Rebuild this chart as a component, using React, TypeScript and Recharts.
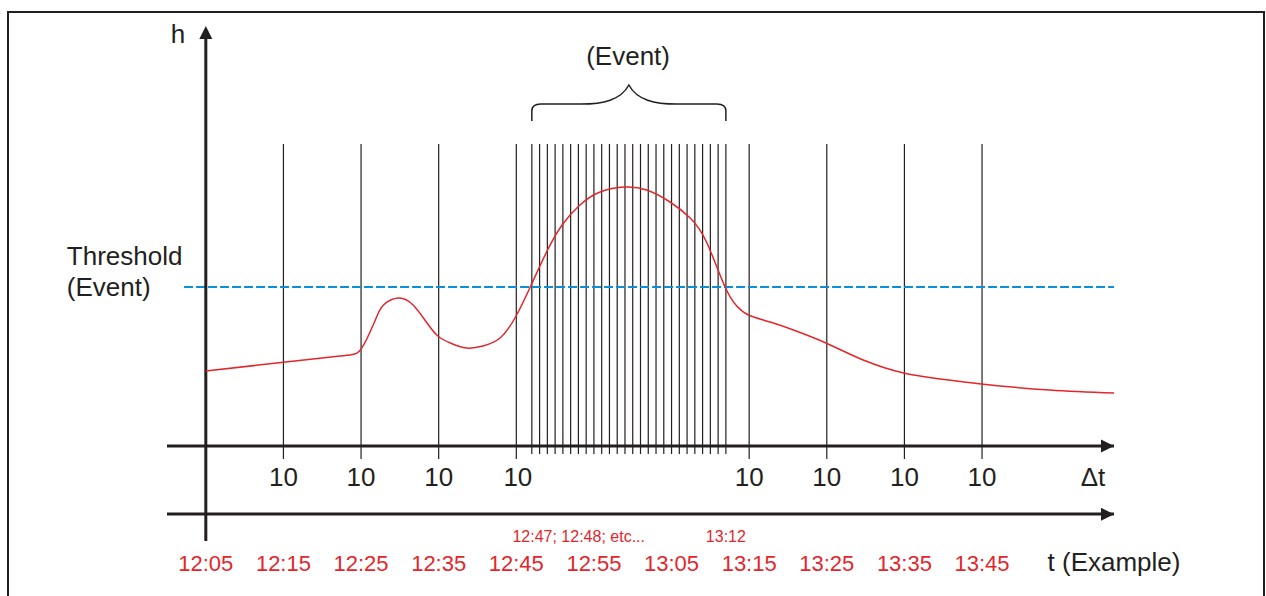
import {
  Line,
  LineChart,
  ReferenceArea,
  ReferenceDot,
  ReferenceLine,
  XAxis,
  YAxis,
} from "recharts"

const FONT = "'Liberation Sans', Arial, sans-serif"
const INK = "#231f20"
const RED = "#e3262b"
const BLUE = "#0a8fd8"

// minutes after 12:05 and the height h of the curve
const curveMinutes = [0, 10, 17.3, 19.8, 21.1, 22, 22.9, 24.8, 26.7, 28.5, 29.9, 31.5, 33.6, 35.7, 37.9, 39.9, 41.8, 43.9, 45.9, 48.2, 50.8, 54, 56.8, 59.8, 62.4, 64.5, 66.9, 68.4, 69.9, 72.7, 75.7, 79.9, 84.7, 89.9, 94.6, 99.9, 108.7, 117]
const curveHeights = [7.5, 8.37, 9.0, 9.5, 11.3, 12.9, 14.1, 14.8, 14.1, 12.3, 11.0, 10.3, 9.8, 10.0, 10.8, 12.9, 15.9, 19.4, 22.1, 24.1, 25.4, 25.9, 25.6, 24.4, 22.8, 20.4, 15.9, 14.0, 13.1, 12.4, 11.6, 10.3, 8.6, 7.3, 6.7, 6.2, 5.6, 5.3]

const threshold = 15.9

// 10-minute sampling lines and the 1-minute lines during the event
const sampleMinutes = [10, 20, 30, 40, 70, 80, 90, 100]
const eventMinutes = [42, 43, 44, 45, 46, 47, 48, 49, 50, 51, 52, 53, 54, 55, 56, 57, 58, 59, 60, 61, 62, 63, 64, 65, 66, 67]

const dtTicks = [10, 20, 30, 40.2, 70, 80, 90, 100, 114.3]
const dtLabels = ["10", "10", "10", "10", "10", "10", "10", "10", "Δt"]

const timeTicks = [0, 10, 20, 30, 40, 50, 60, 70, 80, 90, 100, 117]
const timeLabels = ["12:05", "12:15", "12:25", "12:35", "12:45", "12:55", "13:05", "13:15", "13:25", "13:35", "13:45", "t (Example)"]

const data = curveMinutes.map((minute, i) => ({ minute, h: curveHeights[i] }))

const note =
  (text: string, anchor: "start" | "middle" | "end", size: number, color: string) =>
  (p: any) => (
    <text x={p.cx} y={p.cy} textAnchor={anchor} fontSize={size} fill={color} fontFamily={FONT}>
      {text}
    </text>
  )

const arrowRight = (p: any) => (
  <polygon points={`${p.cx},${p.cy} ${p.cx - 13},${p.cy - 6.5} ${p.cx - 13},${p.cy + 6.5}`} fill={INK} />
)

const arrowUp = (p: any) => (
  <polygon points={`${p.cx},${p.cy} ${p.cx - 6.5},${p.cy + 13} ${p.cx + 6.5},${p.cy + 13}`} fill={INK} />
)

const brace = (p: any) => {
  const x0 = p.x
  const x1 = p.x + p.width
  const xc = (x0 + x1) / 2
  const yt = p.y
  const yb = p.y + p.height
  const ym = yt + p.height * 0.53
  const d =
    `M${x0},${yb} L${x0},${ym + 7} Q${x0},${ym} ${x0 + 9},${ym} L${xc - 48},${ym} ` +
    `C${xc - 26},${ym} ${xc - 8},${ym - 4} ${xc},${yt} ` +
    `C${xc + 8},${ym - 4} ${xc + 26},${ym} ${xc + 48},${ym} ` +
    `L${x1 - 9},${ym} Q${x1},${ym} ${x1},${ym + 7} L${x1},${yb}`
  return <path d={d} fill="none" stroke={INK} strokeWidth={1.5} />
}

// tick text: the axis name at the end is larger and black
const tickText =
  (labels: string[], ticks: number[], size: number, dy: number, color: string) => (p: any) => {
    const i = ticks.indexOf(p.payload.value)
    const label = labels[i] ?? ""
    const isName = i === labels.length - 1
    return (
      <text
        x={p.x}
        y={p.y}
        dy={dy}
        textAnchor="middle"
        fontSize={isName ? 26 : size}
        fill={isName ? INK : color}
        fontFamily={FONT}
      >
        {label}
      </text>
    )
  }

export default function App() {
  return (
    <div style={{ position: "fixed", left: 0, top: 0, width: 1266, height: 596, overflow: "hidden", background: "#fff" }}>
      <div
        style={{
          position: "absolute",
          left: 7,
          top: 11,
          width: 1258,
          height: 700,
          border: `2px solid ${INK}`,
          boxSizing: "border-box",
        }}
      />
      <div style={{ position: "absolute", left: 0, top: 0 }}>
        <LineChart width={1266} height={596} data={data} margin={{ top: 26, right: 152, bottom: 22, left: 167 }}>
          <XAxis
            xAxisId="dt"
            dataKey="minute"
            type="number"
            domain={[-5, 117]}
            allowDataOverflow
            ticks={dtTicks}
            interval={0}
            height={68}
            tickLine={false}
            tickSize={13}
            tickMargin={8}
            axisLine={{ stroke: INK, strokeWidth: 3 }}
            tick={tickText(dtLabels, dtTicks, 26, 18.5, INK)}
          />
          <XAxis
            xAxisId="t"
            dataKey="minute"
            type="number"
            domain={[-5, 117]}
            allowDataOverflow
            ticks={timeTicks}
            interval={0}
            height={60}
            tickLine={false}
            tickSize={0}
            tickMargin={41}
            axisLine={{ stroke: INK, strokeWidth: 3 }}
            tick={tickText(timeLabels, timeTicks, 22, 15.6, RED)}
          />
          <YAxis hide type="number" domain={[0, 42]} allowDataOverflow />

          {sampleMinutes.map((m) => (
            <ReferenceLine
              key={`s${m}`}
              xAxisId="dt"
              ifOverflow="visible"
              segment={[{ x: m, y: -1.3 }, { x: m, y: 30.2 }]}
              stroke={INK}
              strokeWidth={1.2}
            />
          ))}
          {eventMinutes.map((m) => (
            <ReferenceLine
              key={`e${m}`}
              xAxisId="dt"
              ifOverflow="visible"
              segment={[{ x: m, y: -0.8 }, { x: m, y: 30.2 }]}
              stroke={INK}
              strokeWidth={1.2}
            />
          ))}

          <ReferenceLine
            xAxisId="dt"
            ifOverflow="visible"
            segment={[{ x: -2.8, y: threshold }, { x: 117, y: threshold }]}
            stroke={BLUE}
            strokeWidth={2}
            strokeDasharray="9 3"
          />

          <ReferenceLine
            xAxisId="dt"
            ifOverflow="visible"
            segment={[{ x: 0, y: -9.5 }, { x: 0, y: 41 }]}
            stroke={INK}
            strokeWidth={3}
          />
          <ReferenceDot xAxisId="dt" x={0} y={42} ifOverflow="visible" shape={arrowUp} />
          <ReferenceDot xAxisId="dt" x={117} y={0} ifOverflow="visible" shape={arrowRight} />
          <ReferenceDot xAxisId="dt" x={117} y={-6.83} ifOverflow="visible" shape={arrowRight} />

          <ReferenceArea xAxisId="dt" x1={42} x2={67} y1={32.5} y2={36.1} ifOverflow="visible" shape={brace} />

          <ReferenceDot xAxisId="dt" x={-3.6} y={40.3} ifOverflow="visible" shape={note("h", "middle", 26, INK)} />
          <ReferenceDot xAxisId="dt" x={-17.9} y={18.1} ifOverflow="visible" shape={note("Threshold", "start", 26, INK)} />
          <ReferenceDot xAxisId="dt" x={-17.9} y={15.0} ifOverflow="visible" shape={note("(Event)", "start", 26, INK)} />
          <ReferenceDot xAxisId="dt" x={54.4} y={38.1} ifOverflow="visible" shape={note("(Event)", "middle", 26, INK)} />
          <ReferenceDot xAxisId="dt" x={39.5} y={-9.6} ifOverflow="visible" shape={note("12:47; 12:48; etc...", "start", 16, RED)} />
          <ReferenceDot xAxisId="dt" x={67} y={-9.6} ifOverflow="visible" shape={note("13:12", "middle", 16, RED)} />

          <Line
            xAxisId="dt"
            type="natural"
            dataKey="h"
            stroke={RED}
            strokeWidth={1.5}
            dot={false}
            isAnimationActive={false}
          />
        </LineChart>
      </div>
    </div>
  )
}
